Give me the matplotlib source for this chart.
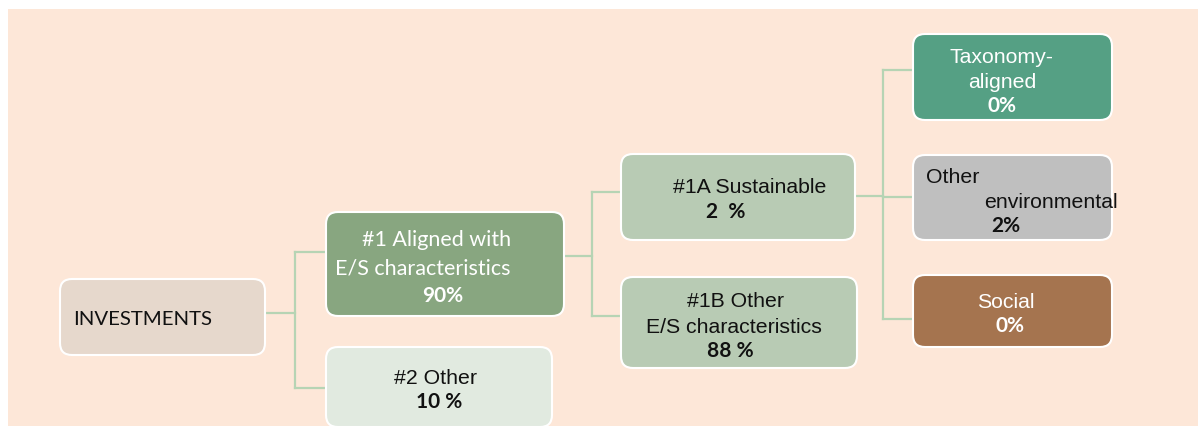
import matplotlib
matplotlib.use("Agg")
import matplotlib.pyplot as plt
from matplotlib.patches import FancyBboxPatch, Rectangle

# tree data
node_names = ["INVESTMENTS", "#1 Aligned with\nE/S characteristics", "#2 Other",
              "#1A Sustainable", "#1B Other\nE/S characteristics",
              "Taxonomy-\naligned", "Other\nenvironmental", "Social"]
node_shares = [None, "90%", "10 %", "2  %", "88 %", "0%", "2%", "0%"]
edges = [(0, [1, 2]), (1, [3, 4]), (3, [5, 6, 7])]

# layout (pixels, y down): box x0, y0, x1, y1
boxes = [(60, 280, 265, 356), (326, 213, 564, 317), (326, 348, 552, 428),
         (621, 155, 855, 241), (621, 278, 857, 369),
         (913, 35, 1112, 121), (913, 156, 1112, 241), (913, 276, 1112, 348)]
colors = ["#E6D8CC", "#88A680", "#E1EAE0", "#B8CBB4", "#B8CBB4",
          "#55A084", "#BFBFBF", "#A5744F"]
txt_col = ["#111111", "white", "#111111", "#111111", "#111111",
           "white", "#111111", "white"]
fonts = ["Lato", "Lato", "Liberation Sans", "Liberation Sans", "Liberation Sans",
         "Liberation Sans", "Liberation Sans", "Liberation Sans"]
# per-line left x and baseline y (name lines then share line)
line_pos = [[(73, 325)],
            [(362, 246), (335, 275), (422, 302)],
            [(394, 384), (416, 408)],
            [(673, 193), (706, 218)],
            [(687, 307), (646, 333), (707, 357)],
            [(950, 63), (968, 88), (987, 112)],
            [(926, 183), (984, 208), (991, 232)],
            [(977, 308), (996, 332)]]
# connector elbows: x of vertical, y at parent side, y at each child
elbows = [(295, 314, [253, 389]), (592, 257, [193, 317]), (883, 197, [71, 198, 320])]
line_col = "#B6D4B4"

fig = plt.figure(figsize=(11.98, 4.27), dpi=100)
ax = fig.add_axes([0, 0, 1, 1])
ax.set_xlim(0, 1198)
ax.set_ylim(427, 0)
ax.axis("off")

ax.add_patch(Rectangle((8, 10), 1190, 417, color="#FDE7D8", lw=0, zorder=0))

# connectors
for (parent, kids), (ex, ey, kid_y) in zip(edges, elbows):
    px1 = boxes[parent][2]
    ax.plot([px1, ex], [ey, ey], color=line_col, lw=1.6, zorder=1)
    ax.plot([ex, ex], [min(kid_y), max(kid_y)], color=line_col, lw=1.6, zorder=1)
    for k, ky in zip(kids, kid_y):
        ax.plot([ex, boxes[k][0]], [ky, ky], color=line_col, lw=1.6, zorder=1)

for i, (x0, y0, x1, y1) in enumerate(boxes):
    ax.add_patch(FancyBboxPatch((x0, y0), x1 - x0, y1 - y0,
                                boxstyle="round,pad=0,rounding_size=12",
                                fc=colors[i], ec="white", lw=1.5, zorder=2))
    lines = node_names[i].split("\n")
    if node_shares[i]:
        lines.append(node_shares[i])
    for j, (s, (lx, ly)) in enumerate(zip(lines, line_pos[i])):
        bold = node_shares[i] is not None and j == len(lines) - 1
        fam = "Lato" if (bold or fonts[i] == "Lato") else fonts[i]
        if bold:
            size = 15
        elif i == 0:
            size = 14.7
        elif fam == "Lato":
            size = 15.5
        else:
            size = 15.3
        ax.text(lx, ly, s, ha="left", va="baseline", color=txt_col[i],
                fontsize=size, family=fam, fontweight="bold" if bold else "normal",
                zorder=3)

fig.savefig("out.png", dpi=100, facecolor="white")
